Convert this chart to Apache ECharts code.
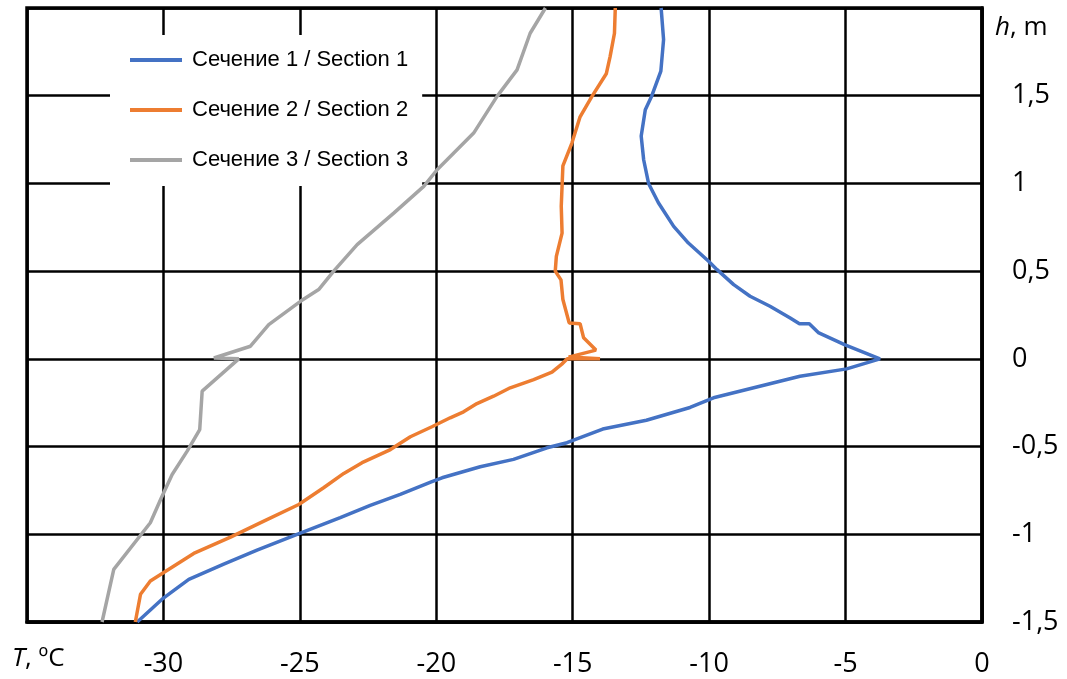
<!DOCTYPE html>
<html>
<head>
<meta charset="utf-8">
<script src="https://cdn.jsdelivr.net/npm/echarts@6/dist/echarts.min.js"></script>
<style>
html,body{margin:0;padding:0;background:#fff;}
#chart{width:1067px;height:679px;}
</style>
</head>
<body>
<div id="chart"></div>
<script>
// ---- data ----
const seriesNames = ['Сечение 1 / Section 1', 'Сечение 2 / Section 2', 'Сечение 3 / Section 3'];

const sec1T = [-11.76, -11.67, -11.77, -12.1, -12.34, -12.49, -12.4, -12.22, -11.86, -11.3, -10.76, -10.02, -9.72, -9.1, -8.5, -7.77, -7.03, -6.69, -6.33, -6.0, -5.02, -3.74, -4.96, -6.67, -9.84, -10.7, -12.3, -13.9, -15.21, -15.94, -17.17, -18.39, -19.79, -20.16, -21.32, -22.42, -23.52, -25.1, -26.57, -27.79, -29.07, -30.05, -30.96];
const sec1H = [2.0, 1.82, 1.64, 1.5, 1.42, 1.27, 1.135, 1.0, 0.89, 0.755, 0.66, 0.556, 0.51, 0.423, 0.357, 0.30, 0.233, 0.20, 0.20, 0.15, 0.08, 0.0, -0.057, -0.099, -0.222, -0.277, -0.35, -0.40, -0.478, -0.507, -0.573, -0.615, -0.678, -0.70, -0.773, -0.835, -0.905, -1.0, -1.09, -1.17, -1.257, -1.37, -1.5];

const sec2T = [-13.44, -13.47, -13.63, -13.77, -14.3, -14.73, -15.03, -15.36, -15.42, -15.39, -15.6, -15.64, -15.43, -15.36, -15.13, -14.73, -14.6, -14.15, -15.15, -14.0, -15.2, -15.4, -15.76, -16.43, -17.29, -17.9, -18.51, -19.0, -19.49, -20.16, -20.95, -21.68, -22.72, -23.39, -24.13, -25.04, -26.32, -27.54, -28.89, -30.48, -30.84, -31.03];
const sec2H = [2.0, 1.856, 1.723, 1.625, 1.495, 1.38, 1.23, 1.10, 0.87, 0.717, 0.584, 0.50, 0.45, 0.338, 0.205, 0.20, 0.12, 0.05, 0.01, 0.0, 0.0, -0.03, -0.076, -0.118, -0.165, -0.213, -0.255, -0.302, -0.336, -0.387, -0.444, -0.517, -0.592, -0.653, -0.735, -0.83, -0.925, -1.016, -1.109, -1.266, -1.342, -1.5];

const sec3T = [-16.0, -16.56, -17.04, -17.78, -18.63, -19.97, -20.46, -21.56, -22.9, -23.76, -24.31, -24.98, -26.14, -26.81, -28.15, -27.24, -28.58, -28.67, -29.13, -29.68, -30.1, -30.48, -31.82, -32.25];
const sec3H = [2.0, 1.856, 1.647, 1.495, 1.287, 1.078, 0.983, 0.831, 0.651, 0.50, 0.395, 0.328, 0.195, 0.072, 0.005, 0.0, -0.184, -0.403, -0.526, -0.659, -0.80, -0.934, -1.2, -1.5];

const xTickValues = [-30, -25, -20, -15, -10, -5, 0];
const xTickLabels = ['-30', '-25', '-20', '-15', '-10', '-5', '0'];
const yTickValues = [-1.5, -1, -0.5, 0, 0.5, 1, 1.5];
const yTickLabels = ['-1,5', '-1', '-0,5', '0', '0,5', '1', '1,5'];
const xAxisTitle = 'T';
const xAxisUnit = ', ºC';
const yAxisTitle = 'h';
const yAxisUnit = ', m';

// ---- chart ----
const colors = ['#4472C4', '#ED7D31', '#A5A5A5'];
function pairs(t, h) { return t.map((v, i) => [v, h[i]]); }
function lookup(vals, labels, v) {
  for (let i = 0; i < vals.length; i++) if (Math.abs(vals[i] - v) < 1e-9) return labels[i];
  return '';
}
const tickFont = { fontFamily: 'Open Sans', fontSize: 27, color: '#000' };

const chart = echarts.init(document.getElementById('chart'), null, { renderer: 'canvas' });
chart.setOption({
  animation: false,
  backgroundColor: '#fff',
  grid: { left: 27, right: 85, top: 8, bottom: 57, show: true, borderColor: '#000', borderWidth: 3.5, backgroundColor: 'transparent' },
  xAxis: {
    type: 'value', min: -35, max: 0, interval: 5,
    axisLine: { show: true, onZero: false, lineStyle: { color: '#000', width: 3.5 } },
    axisTick: { show: false },
    splitLine: { show: true, lineStyle: { color: '#000', width: 2.5 } },
    axisLabel: Object.assign({ margin: 29, formatter: v => lookup(xTickValues, xTickLabels, v) }, tickFont)
  },
  yAxis: {
    type: 'value', position: 'right', min: -1.5, max: 2, interval: 0.5,
    axisLine: { show: true, onZero: false, lineStyle: { color: '#000', width: 3.5 } },
    axisTick: { show: false },
    splitLine: { show: true, lineStyle: { color: '#000', width: 2.5 } },
    axisLabel: Object.assign({ margin: 30, formatter: v => lookup(yTickValues, yTickLabels, v) }, tickFont)
  },
  legend: {
    orient: 'vertical', left: 110, top: 35,
    padding: [14, 14, 15, 20],
    backgroundColor: '#fff',
    icon: 'rect', itemWidth: 52, itemHeight: 4, itemGap: 28,
    textStyle: { fontFamily: 'Liberation Sans', fontSize: 22, lineHeight: 22, color: '#000', padding: [0, 0, 0, 5] },
    data: seriesNames
  },
  series: [
    { name: seriesNames[0], type: 'line', data: pairs(sec1T, sec1H) },
    { name: seriesNames[1], type: 'line', data: pairs(sec2T, sec2H) },
    { name: seriesNames[2], type: 'line', data: pairs(sec3T, sec3H) }
  ].map((s, i) => Object.assign(s, {
    showSymbol: false, symbol: 'none', color: colors[i],
    lineStyle: { color: colors[i], width: 3.5 }, z: 3
  })),
  graphic: [
    {
      type: 'text', x: 12, y: 659,
      style: {
        text: '{i|' + xAxisTitle + '}' + xAxisUnit,
        fontFamily: 'Open Sans', fontSize: 26, fill: '#000',
        verticalAlign: 'middle', align: 'left',
        rich: { i: { fontStyle: 'italic', fontFamily: 'Open Sans', fontSize: 26, fill: '#000' } }
      }
    },
    {
      type: 'text', x: 995, y: 28,
      style: {
        text: '{i|' + yAxisTitle + '}' + yAxisUnit,
        fontFamily: 'Open Sans', fontSize: 26, fill: '#000',
        verticalAlign: 'middle', align: 'left',
        rich: { i: { fontStyle: 'italic', fontFamily: 'Open Sans', fontSize: 26, fill: '#000' } }
      }
    }
  ]
});
</script>
</body>
</html>
